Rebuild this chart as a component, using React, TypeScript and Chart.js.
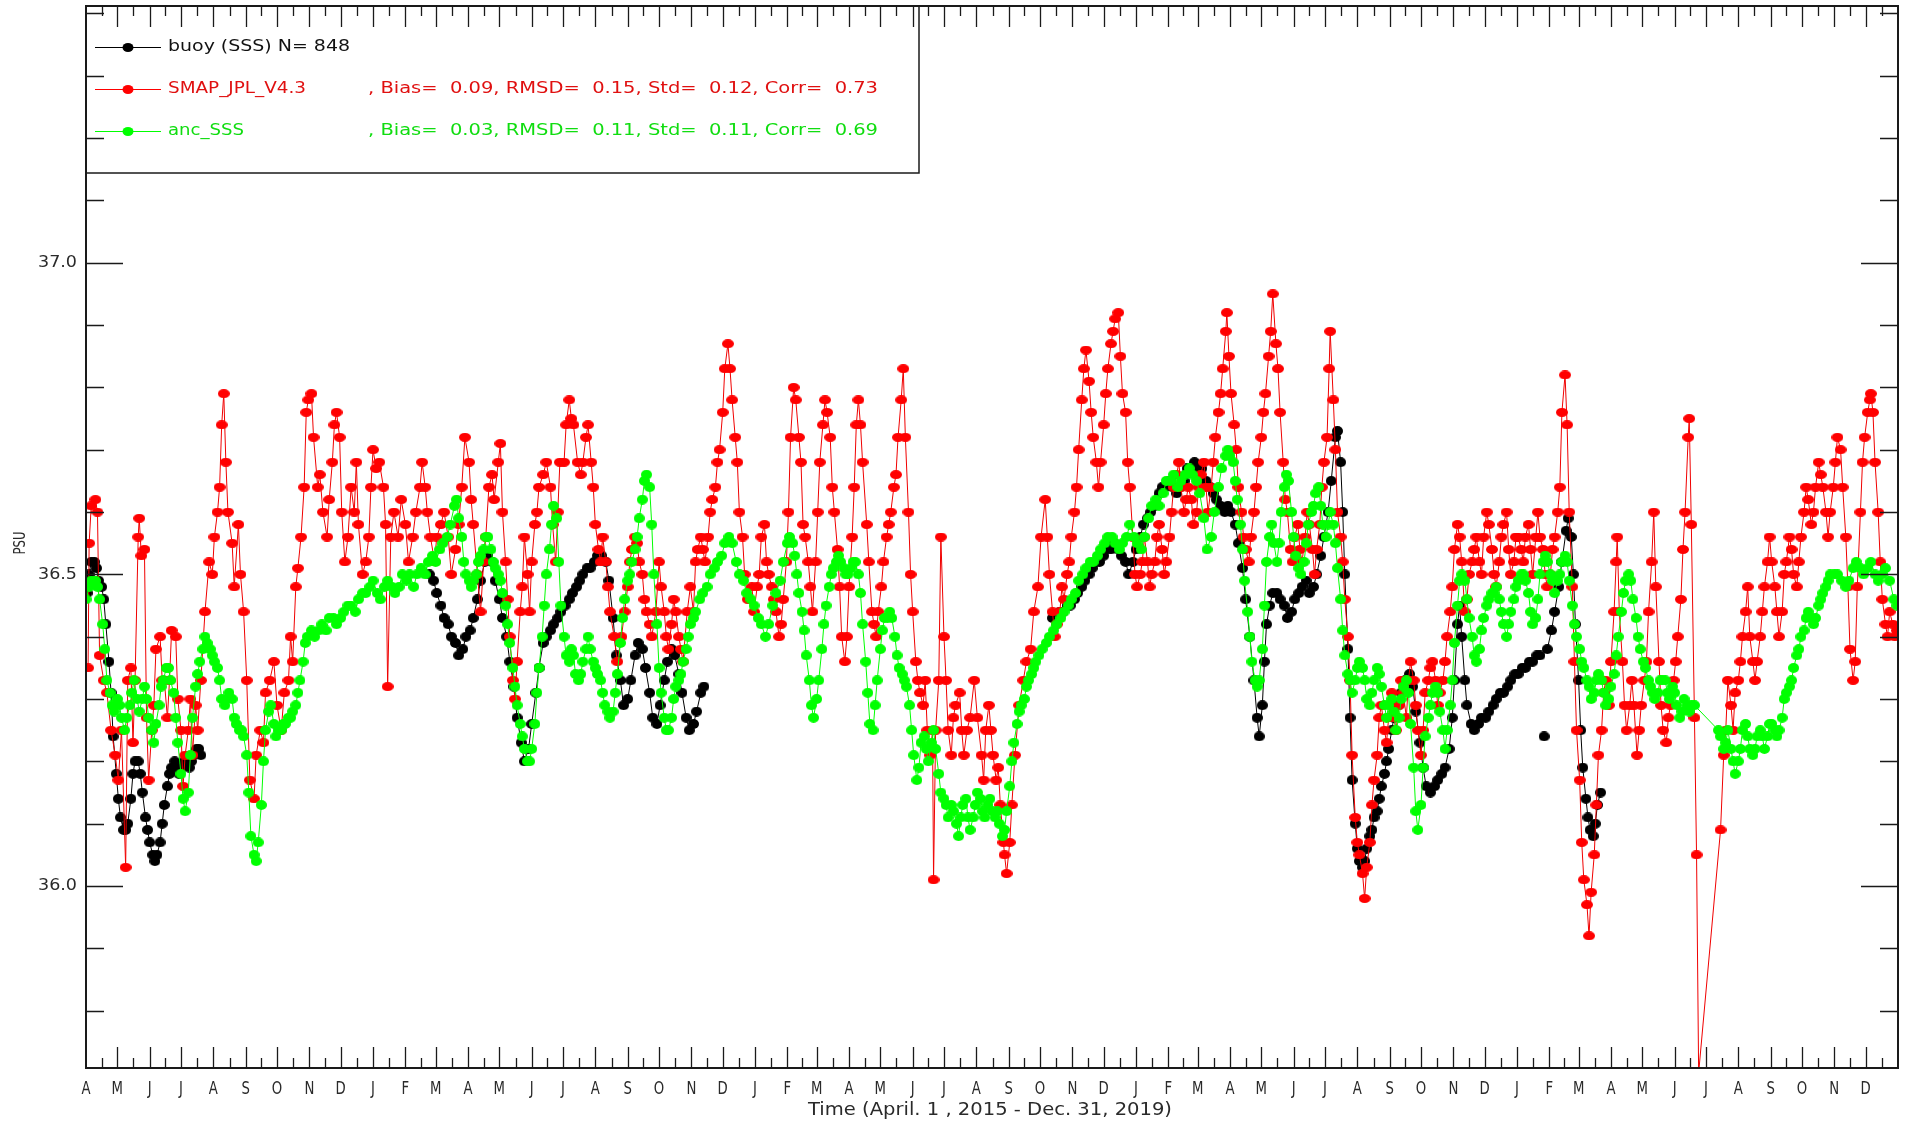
import React, { useEffect, useRef } from 'react';
import { Chart, registerables } from 'chart.js';

Chart.register(...registerables);

// ---------- axis definitions ----------
// days counted from April 1, 2015
const monthStartDays = [0, 30, 61, 91, 122, 153, 183, 214, 244, 275, 306, 335, 366, 396, 427, 457, 488, 519, 549, 580, 610, 641, 672, 700, 731, 761, 792, 822, 853, 884, 914, 945, 975, 1006, 1037, 1065, 1096, 1126, 1157, 1187, 1218, 1249, 1279, 1310, 1340, 1371, 1402, 1430, 1461, 1491, 1522, 1552, 1583, 1614, 1644, 1675, 1705];
const monthLetters = ['A', 'M', 'J', 'J', 'A', 'S', 'O', 'N', 'D',
  'J', 'F', 'M', 'A', 'M', 'J', 'J', 'A', 'S', 'O', 'N', 'D',
  'J', 'F', 'M', 'A', 'M', 'J', 'J', 'A', 'S', 'O', 'N', 'D',
  'J', 'F', 'M', 'A', 'M', 'J', 'J', 'A', 'S', 'O', 'N', 'D',
  'J', 'F', 'M', 'A', 'M', 'J', 'J', 'A', 'S', 'O', 'N', 'D'];
const axisEndDay = 1736;
const yMin = 35.708;
const yMax = 37.412;
const yLabelValues = [36.0, 36.5, 37.0];
const yMinorValues = [35.8, 35.9, 36.1, 36.2, 36.3, 36.4, 36.6, 36.7, 36.8, 36.9, 37.1, 37.2, 37.3, 37.4];
const xTitle = 'Time (April. 1 , 2015 - Dec. 31, 2019)';
const yTitle = 'PSU';

const legendNames = ['buoy (SSS) N= 848', 'SMAP_JPL_V4.3', 'anc_SSS'];
const legendStats = ['', ', Bias=  0.09, RMSD=  0.15, Std=  0.12, Corr=  0.73', ', Bias=  0.03, RMSD=  0.11, Std=  0.11, Corr=  0.69'];

// ---------- data: [day since 2015-04-01, PSU] ----------
const buoyData = [
  [1, 36.47], [3, 36.50], [5, 36.52], [8, 36.52], [10, 36.51], [12, 36.49], [15, 36.48], [17, 36.46], [19, 36.42], [22, 36.36], [24, 36.31], [26, 36.24], [29, 36.18], [31, 36.14], [33, 36.11], [36, 36.09], [38, 36.09], [40, 36.10], [43, 36.14], [45, 36.18], [47, 36.20], [50, 36.20], [52, 36.18], [54, 36.15], [57, 36.11], [59, 36.09], [61, 36.07], [64, 36.05], [66, 36.04], [68, 36.05], [71, 36.07], [73, 36.10], [75, 36.13], [78, 36.16], [80, 36.18], [82, 36.19], [85, 36.20], [87, 36.19], [89, 36.18], [92, 36.19], [94, 36.20], [96, 36.20], [99, 36.19], [101, 36.20], [103, 36.21], [106, 36.22], [108, 36.22], [110, 36.21],
  [200, null],
  [329, 36.50], [333, 36.49], [336, 36.47], [340, 36.45], [343, 36.43], [347, 36.42], [350, 36.40], [354, 36.39], [357, 36.37], [361, 36.38], [364, 36.40], [368, 36.41], [371, 36.43], [375, 36.46], [378, 36.49], [382, 36.52], [385, 36.53], [389, 36.52], [392, 36.49], [396, 36.46], [399, 36.43], [403, 36.40], [406, 36.36], [410, 36.32], [413, 36.27], [417, 36.23], [420, 36.20], [424, 36.22], [427, 36.26], [431, 36.31], [434, 36.35], [438, 36.39], [441, 36.40], [445, 36.41], [448, 36.42], [452, 36.43], [455, 36.44], [459, 36.45], [463, 36.46], [466, 36.47], [470, 36.48], [473, 36.49], [476, 36.50], [480, 36.51], [483, 36.51], [487, 36.52], [490, 36.53], [494, 36.53], [498, 36.52], [501, 36.49], [505, 36.43], [508, 36.37], [512, 36.33], [515, 36.29], [519, 36.30], [522, 36.33], [526, 36.37], [529, 36.39], [533, 36.38], [536, 36.35], [540, 36.31], [543, 36.27], [547, 36.26], [550, 36.29], [554, 36.33], [557, 36.36], [561, 36.38], [564, 36.37], [568, 36.34], [571, 36.31], [575, 36.27], [578, 36.25], [582, 36.26], [585, 36.28], [589, 36.31], [592, 36.32],
  [700, null],
  [926, 36.43], [929, 36.43], [933, 36.44], [936, 36.44], [940, 36.45], [943, 36.45], [947, 36.46], [950, 36.47], [954, 36.48], [957, 36.49], [961, 36.50], [964, 36.51], [968, 36.52], [971, 36.52], [975, 36.53], [978, 36.54], [982, 36.54], [985, 36.55], [989, 36.54], [992, 36.53], [996, 36.52], [999, 36.50], [1003, 36.52], [1006, 36.54], [1010, 36.56], [1013, 36.58], [1017, 36.59], [1020, 36.60], [1024, 36.61], [1028, 36.63], [1031, 36.64], [1034, 36.64], [1038, 36.65], [1041, 36.64], [1045, 36.63], [1048, 36.64], [1052, 36.65], [1055, 36.67], [1059, 36.67], [1062, 36.68], [1066, 36.67], [1069, 36.67], [1073, 36.65], [1077, 36.64], [1080, 36.63], [1083, 36.62], [1087, 36.61], [1091, 36.60], [1094, 36.61], [1097, 36.60], [1101, 36.58], [1104, 36.55], [1108, 36.51], [1111, 36.46], [1115, 36.40], [1119, 36.33], [1122, 36.27], [1124, 36.24], [1127, 36.29], [1129, 36.36], [1131, 36.42], [1134, 36.45], [1137, 36.47], [1141, 36.47], [1144, 36.46], [1148, 36.45], [1151, 36.43], [1155, 36.44], [1158, 36.46], [1162, 36.47], [1165, 36.48], [1169, 36.49], [1172, 36.47], [1176, 36.48], [1179, 36.50], [1183, 36.53], [1186, 36.56], [1190, 36.60], [1193, 36.65], [1197, 36.72], [1199, 36.73], [1202, 36.68], [1204, 36.60], [1206, 36.50], [1209, 36.38], [1211, 36.27], [1213, 36.17], [1216, 36.10], [1218, 36.06], [1220, 36.04], [1223, 36.03], [1225, 36.04], [1227, 36.06], [1230, 36.08], [1232, 36.09], [1234, 36.11], [1237, 36.12], [1239, 36.14], [1241, 36.16], [1244, 36.18], [1246, 36.20], [1248, 36.22], [1251, 36.25], [1253, 36.27], [1257, 36.29], [1260, 36.31], [1264, 36.33], [1268, 36.34], [1271, 36.32], [1274, 36.28], [1278, 36.23], [1281, 36.19], [1284, 36.16], [1288, 36.15], [1292, 36.16], [1295, 36.17], [1299, 36.18], [1302, 36.19], [1306, 36.22], [1309, 36.27], [1311, 36.33], [1314, 36.42], [1316, 36.45], [1318, 36.40], [1321, 36.33], [1323, 36.29], [1327, 36.26], [1330, 36.25], [1334, 36.26], [1337, 36.27], [1341, 36.27], [1344, 36.28], [1348, 36.29], [1351, 36.30], [1355, 36.31], [1358, 36.31], [1362, 36.32], [1365, 36.33], [1369, 36.34], [1372, 36.34], [1376, 36.35], [1379, 36.35], [1383, 36.36], [1386, 36.36], [1390, 36.37], [1393, 36.37],
  [1395, null], [1397, 36.24], [1398, null],
  [1400, 36.38], [1404, 36.41], [1407, 36.44], [1411, 36.48], [1414, 36.52], [1418, 36.57], [1420, 36.59], [1423, 36.56], [1425, 36.50], [1427, 36.42], [1430, 36.33], [1432, 36.25], [1434, 36.19], [1437, 36.14], [1439, 36.11], [1441, 36.09], [1444, 36.08], [1446, 36.10], [1448, 36.13], [1451, 36.15]
];

const smapData = [
  [2, 36.35], [3, 36.55], [5, 36.61], [9, 36.62], [11, 36.60], [13, 36.37], [17, 36.33], [20, 36.31], [24, 36.25], [28, 36.21], [31, 36.17], [34, 36.25], [38, 36.03], [40, 36.33], [43, 36.35], [45, 36.23], [47, 36.33], [50, 36.56], [51, 36.59], [53, 36.53], [56, 36.54], [58, 36.27], [60, 36.17], [63, 36.25], [65, 36.29], [67, 36.38], [71, 36.40], [73, 36.33], [75, 36.33], [78, 36.27], [80, 36.33], [82, 36.41], [86, 36.40], [88, 36.30], [91, 36.25], [93, 36.16], [95, 36.21], [98, 36.25], [100, 36.30], [102, 36.21], [105, 36.29], [107, 36.25], [110, 36.33], [114, 36.44], [118, 36.52], [121, 36.50], [123, 36.56], [126, 36.60], [128, 36.64], [130, 36.74], [132, 36.79], [134, 36.68], [136, 36.60], [140, 36.55], [142, 36.48], [146, 36.58], [148, 36.50], [151, 36.44], [154, 36.33], [157, 36.17], [161, 36.14], [163, 36.21], [167, 36.25], [170, 36.23], [172, 36.31], [176, 36.33], [180, 36.36], [183, 36.29], [187, 36.25], [190, 36.31], [194, 36.33], [196, 36.40], [198, 36.36], [201, 36.48], [203, 36.51], [206, 36.56], [209, 36.64], [211, 36.76], [213, 36.78], [216, 36.79], [218, 36.72], [222, 36.64], [224, 36.66], [227, 36.60], [231, 36.56], [233, 36.62], [236, 36.68], [238, 36.74], [240, 36.76], [243, 36.72], [245, 36.60], [248, 36.52], [251, 36.56], [254, 36.64], [257, 36.60], [259, 36.68], [261, 36.58], [265, 36.50], [268, 36.52], [271, 36.56], [273, 36.64], [275, 36.70], [278, 36.67], [281, 36.68], [285, 36.64], [287, 36.58], [289, 36.32], [292, 36.56], [295, 36.60], [299, 36.56], [302, 36.62], [306, 36.58], [309, 36.52], [313, 36.56], [316, 36.60], [320, 36.64], [322, 36.68], [325, 36.64], [327, 36.60], [330, 36.56], [334, 36.52], [336, 36.56], [340, 36.58], [343, 36.60], [347, 36.56], [350, 36.50], [354, 36.54], [357, 36.58], [360, 36.64], [363, 36.72], [367, 36.68], [369, 36.62], [371, 36.58], [375, 36.50], [378, 36.44], [381, 36.52], [383, 36.56], [386, 36.64], [389, 36.66], [391, 36.62], [395, 36.68], [397, 36.71], [399, 36.60], [402, 36.52], [404, 36.46], [406, 36.40], [409, 36.33], [411, 36.30], [413, 36.36], [416, 36.44], [418, 36.48], [420, 36.56], [423, 36.50], [425, 36.44], [427, 36.52], [430, 36.58], [432, 36.60], [434, 36.64], [438, 36.66], [441, 36.68], [445, 36.64], [447, 36.58], [450, 36.52], [452, 36.60], [454, 36.68], [458, 36.68], [460, 36.74], [463, 36.78], [465, 36.75], [467, 36.74], [471, 36.68], [474, 36.66], [476, 36.68], [479, 36.72], [481, 36.74], [484, 36.68], [486, 36.64], [488, 36.58], [491, 36.54], [493, 36.52], [495, 36.56], [498, 36.52], [500, 36.48], [502, 36.44], [506, 36.40], [509, 36.36], [513, 36.40], [516, 36.44], [519, 36.48], [521, 36.52], [523, 36.54], [526, 36.56], [528, 36.55], [530, 36.52], [533, 36.50], [535, 36.46], [537, 36.44], [540, 36.42], [542, 36.40], [546, 36.44], [549, 36.52], [551, 36.48], [554, 36.44], [556, 36.40], [558, 36.38], [561, 36.42], [563, 36.46], [565, 36.44], [568, 36.40], [570, 36.38], [572, 36.36], [576, 36.44], [579, 36.48], [582, 36.44], [584, 36.52], [586, 36.54], [589, 36.56], [591, 36.54], [593, 36.52], [596, 36.56], [598, 36.60], [600, 36.62], [603, 36.64], [605, 36.68], [607, 36.70], [610, 36.76], [612, 36.83], [615, 36.87], [617, 36.83], [619, 36.78], [622, 36.72], [624, 36.68], [626, 36.60], [629, 36.56], [631, 36.50], [634, 36.46], [638, 36.48], [640, 36.44], [643, 36.48], [645, 36.50], [647, 36.56], [650, 36.58], [652, 36.52], [654, 36.50], [657, 36.48], [659, 36.46], [661, 36.44], [664, 36.40], [666, 36.42], [668, 36.46], [671, 36.52], [673, 36.60], [675, 36.72], [678, 36.80], [680, 36.78], [683, 36.72], [685, 36.68], [687, 36.58], [689, 36.56], [692, 36.52], [694, 36.48], [696, 36.44], [699, 36.52], [701, 36.60], [703, 36.68], [706, 36.74], [708, 36.78], [710, 36.76], [713, 36.72], [715, 36.64], [717, 36.60], [720, 36.54], [722, 36.48], [724, 36.40], [727, 36.36], [729, 36.40], [731, 36.48], [734, 36.56], [736, 36.64], [738, 36.74], [740, 36.78], [742, 36.74], [744, 36.68], [748, 36.58], [750, 36.52], [753, 36.44], [755, 36.42], [757, 36.40], [759, 36.44], [762, 36.48], [764, 36.52], [767, 36.56], [769, 36.58], [771, 36.60], [774, 36.64], [776, 36.66], [778, 36.72], [781, 36.78], [783, 36.83], [785, 36.72], [788, 36.60], [790, 36.50], [792, 36.44], [795, 36.36], [797, 36.33], [799, 36.31], [802, 36.29], [804, 36.33], [806, 36.25], [809, 36.21], [811, 36.25], [812, 36.01], [814, 36.25], [817, 36.33], [819, 36.56], [822, 36.40], [824, 36.33], [826, 36.25], [829, 36.21], [831, 36.27], [833, 36.29], [837, 36.31], [839, 36.25], [841, 36.21], [844, 36.25], [847, 36.27], [851, 36.33], [854, 36.27], [858, 36.21], [860, 36.17], [862, 36.25], [865, 36.29], [867, 36.25], [869, 36.21], [872, 36.17], [874, 36.19], [876, 36.13], [879, 36.07], [880, 36.05], [882, 36.02], [885, 36.07], [887, 36.13], [890, 36.21], [894, 36.29], [898, 36.33], [901, 36.36], [905, 36.38], [908, 36.44], [912, 36.48], [915, 36.56], [919, 36.62], [921, 36.56], [923, 36.50], [926, 36.44], [928, 36.40], [930, 36.42], [933, 36.44], [935, 36.48], [937, 36.46], [940, 36.50], [942, 36.52], [944, 36.56], [947, 36.60], [949, 36.64], [951, 36.70], [954, 36.78], [956, 36.83], [958, 36.86], [961, 36.81], [963, 36.76], [965, 36.72], [968, 36.68], [970, 36.64], [972, 36.68], [975, 36.74], [977, 36.79], [979, 36.83], [982, 36.87], [984, 36.89], [986, 36.91], [989, 36.92], [991, 36.85], [993, 36.79], [996, 36.76], [998, 36.68], [1000, 36.64], [1003, 36.56], [1005, 36.50], [1007, 36.48], [1010, 36.50], [1012, 36.52], [1014, 36.56], [1017, 36.52], [1019, 36.48], [1021, 36.50], [1024, 36.52], [1026, 36.56], [1028, 36.58], [1031, 36.54], [1033, 36.50], [1035, 36.52], [1038, 36.56], [1040, 36.60], [1042, 36.64], [1045, 36.66], [1047, 36.68], [1049, 36.64], [1052, 36.60], [1054, 36.62], [1056, 36.64], [1059, 36.62], [1061, 36.58], [1064, 36.60], [1066, 36.64], [1068, 36.66], [1071, 36.68], [1073, 36.64], [1075, 36.60], [1078, 36.64], [1080, 36.68], [1082, 36.72], [1085, 36.76], [1087, 36.79], [1089, 36.83], [1092, 36.89], [1093, 36.92], [1095, 36.85], [1097, 36.79], [1100, 36.74], [1102, 36.70], [1104, 36.64], [1107, 36.60], [1109, 36.56], [1111, 36.54], [1114, 36.52], [1116, 36.56], [1119, 36.60], [1121, 36.64], [1123, 36.68], [1126, 36.72], [1128, 36.76], [1130, 36.79], [1133, 36.85], [1135, 36.89], [1137, 36.95], [1140, 36.87], [1142, 36.83], [1144, 36.76], [1147, 36.68], [1149, 36.62], [1151, 36.60], [1154, 36.54], [1156, 36.52], [1158, 36.56], [1161, 36.58], [1163, 36.54], [1165, 36.52], [1168, 36.56], [1170, 36.60], [1172, 36.58], [1175, 36.54], [1177, 36.50], [1179, 36.54], [1182, 36.58], [1184, 36.64], [1186, 36.68], [1189, 36.72], [1191, 36.83], [1192, 36.89], [1195, 36.78], [1197, 36.70], [1199, 36.60], [1202, 36.56], [1204, 36.52], [1206, 36.46], [1209, 36.40], [1211, 36.33], [1213, 36.21], [1216, 36.11], [1218, 36.07], [1220, 36.05], [1223, 36.02], [1225, 35.98], [1227, 36.03], [1230, 36.07], [1232, 36.13], [1234, 36.17], [1237, 36.21], [1239, 36.27], [1241, 36.29], [1244, 36.25], [1246, 36.23], [1248, 36.27], [1251, 36.31], [1253, 36.27], [1255, 36.25], [1258, 36.29], [1260, 36.33], [1262, 36.31], [1265, 36.27], [1267, 36.33], [1269, 36.36], [1272, 36.33], [1274, 36.29], [1276, 36.25], [1279, 36.21], [1281, 36.25], [1283, 36.31], [1286, 36.33], [1288, 36.35], [1290, 36.36], [1293, 36.33], [1295, 36.29], [1297, 36.31], [1300, 36.33], [1302, 36.36], [1304, 36.40], [1307, 36.44], [1309, 36.48], [1311, 36.54], [1314, 36.58], [1316, 36.56], [1318, 36.52], [1321, 36.44], [1323, 36.46], [1325, 36.50], [1328, 36.52], [1330, 36.54], [1332, 36.56], [1335, 36.52], [1337, 36.50], [1339, 36.56], [1342, 36.60], [1344, 36.58], [1347, 36.54], [1349, 36.50], [1351, 36.48], [1354, 36.52], [1356, 36.56], [1358, 36.58], [1361, 36.60], [1363, 36.54], [1365, 36.50], [1368, 36.52], [1370, 36.56], [1372, 36.56], [1375, 36.54], [1377, 36.52], [1379, 36.56], [1382, 36.58], [1384, 36.54], [1386, 36.50], [1389, 36.56], [1391, 36.60], [1393, 36.56], [1396, 36.54], [1398, 36.50], [1400, 36.48], [1403, 36.50], [1405, 36.54], [1407, 36.56], [1410, 36.60], [1412, 36.64], [1414, 36.76], [1417, 36.82], [1419, 36.74], [1421, 36.60], [1424, 36.48], [1426, 36.36], [1428, 36.25], [1431, 36.17], [1433, 36.07], [1435, 36.01], [1438, 35.97], [1440, 35.92], [1442, 35.99], [1445, 36.05], [1447, 36.13], [1449, 36.21], [1452, 36.25], [1454, 36.31], [1456, 36.33], [1459, 36.29], [1461, 36.36], [1464, 36.44], [1466, 36.52], [1467, 36.56], [1469, 36.44], [1472, 36.36], [1474, 36.29], [1476, 36.25], [1479, 36.29], [1481, 36.33], [1483, 36.29], [1486, 36.21], [1488, 36.25], [1490, 36.29], [1493, 36.33], [1495, 36.36], [1497, 36.44], [1500, 36.52], [1502, 36.60], [1504, 36.48], [1507, 36.36], [1509, 36.29], [1511, 36.25], [1514, 36.23], [1516, 36.27], [1518, 36.29], [1521, 36.33], [1523, 36.36], [1525, 36.40], [1528, 36.46], [1530, 36.54], [1532, 36.60], [1535, 36.72], [1536, 36.75], [1538, 36.58], [1541, 36.27], [1543, 36.05], [1545, 35.70], [1566, 36.09], [1569, 36.21], [1571, 36.25], [1573, 36.33], [1576, 36.29], [1578, 36.25], [1580, 36.31], [1583, 36.33], [1585, 36.36], [1587, 36.40], [1590, 36.44], [1592, 36.48], [1594, 36.40], [1597, 36.36], [1599, 36.33], [1601, 36.36], [1604, 36.40], [1606, 36.44], [1608, 36.48], [1611, 36.52], [1613, 36.56], [1615, 36.52], [1618, 36.48], [1620, 36.44], [1622, 36.40], [1625, 36.44], [1627, 36.50], [1629, 36.52], [1632, 36.56], [1634, 36.54], [1636, 36.50], [1639, 36.48], [1641, 36.52], [1643, 36.56], [1646, 36.60], [1648, 36.64], [1650, 36.62], [1653, 36.58], [1655, 36.60], [1657, 36.64], [1660, 36.68], [1662, 36.66], [1664, 36.64], [1667, 36.60], [1669, 36.56], [1671, 36.60], [1674, 36.64], [1676, 36.68], [1678, 36.72], [1681, 36.70], [1683, 36.64], [1686, 36.56], [1688, 36.48], [1690, 36.38], [1693, 36.33], [1695, 36.36], [1697, 36.48], [1700, 36.60], [1702, 36.68], [1704, 36.72], [1707, 36.76], [1709, 36.78], [1710, 36.79], [1712, 36.76], [1714, 36.68], [1717, 36.60], [1719, 36.52], [1721, 36.46], [1724, 36.42], [1726, 36.40], [1728, 36.44], [1731, 36.42], [1733, 36.40], [1735, 36.41]
];

const ancData = [
  [0, 36.46], [3, 36.48], [5, 36.49], [9, 36.49], [11, 36.48], [13, 36.46], [16, 36.42], [18, 36.38], [20, 36.33], [23, 36.31], [25, 36.29], [27, 36.28], [30, 36.30], [32, 36.29], [34, 36.27], [37, 36.25], [39, 36.27], [42, 36.29], [44, 36.31], [46, 36.33], [49, 36.30], [51, 36.28], [54, 36.30], [56, 36.32], [58, 36.30], [60, 36.27], [63, 36.25], [65, 36.23], [67, 36.26], [70, 36.29], [72, 36.32], [74, 36.33], [77, 36.35], [79, 36.35], [81, 36.33], [84, 36.31], [86, 36.27], [88, 36.23], [91, 36.18], [93, 36.14], [95, 36.12], [98, 36.15], [100, 36.21], [102, 36.27], [105, 36.32], [107, 36.34], [109, 36.36], [112, 36.38], [114, 36.40], [116, 36.39], [119, 36.38], [121, 36.37], [123, 36.36], [126, 36.35], [128, 36.33], [130, 36.30], [133, 36.29], [135, 36.30], [137, 36.31], [140, 36.30], [142, 36.27], [144, 36.26], [147, 36.25], [149, 36.25], [151, 36.24], [154, 36.21], [156, 36.15], [158, 36.08], [161, 36.05], [163, 36.04], [165, 36.07], [168, 36.13], [170, 36.20], [172, 36.25], [175, 36.28], [177, 36.29], [180, 36.26], [182, 36.24], [184, 36.25], [187, 36.25], [189, 36.26], [191, 36.26], [194, 36.27], [196, 36.27], [198, 36.28], [201, 36.29], [203, 36.31], [205, 36.33], [208, 36.36], [210, 36.39], [212, 36.40], [216, 36.41], [219, 36.40], [223, 36.41], [226, 36.42], [230, 36.41], [233, 36.43], [237, 36.43], [240, 36.42], [244, 36.43], [247, 36.44], [251, 36.45], [254, 36.45], [258, 36.44], [261, 36.46], [265, 36.47], [268, 36.47], [272, 36.48], [275, 36.49], [279, 36.47], [282, 36.46], [286, 36.48], [289, 36.49], [293, 36.48], [296, 36.47], [300, 36.48], [303, 36.50], [307, 36.49], [310, 36.50], [314, 36.48], [317, 36.50], [321, 36.51], [325, 36.50], [328, 36.52], [332, 36.53], [335, 36.52], [339, 36.54], [342, 36.55], [346, 36.56], [349, 36.58], [353, 36.61], [355, 36.62], [357, 36.59], [360, 36.56], [362, 36.52], [364, 36.50], [367, 36.49], [369, 36.48], [371, 36.49], [374, 36.50], [376, 36.52], [378, 36.53], [381, 36.54], [383, 36.56], [385, 36.56], [388, 36.54], [390, 36.52], [392, 36.51], [395, 36.50], [397, 36.49], [399, 36.47], [402, 36.45], [404, 36.42], [406, 36.39], [409, 36.35], [411, 36.32], [413, 36.29], [416, 36.26], [418, 36.24], [420, 36.22], [423, 36.20], [425, 36.20], [427, 36.22], [430, 36.26], [432, 36.31], [434, 36.35], [437, 36.40], [439, 36.45], [441, 36.50], [444, 36.54], [446, 36.58], [448, 36.61], [451, 36.59], [453, 36.52], [455, 36.45], [458, 36.40], [460, 36.37], [463, 36.36], [465, 36.38], [467, 36.37], [469, 36.34], [472, 36.33], [474, 36.34], [476, 36.36], [479, 36.38], [481, 36.40], [483, 36.38], [486, 36.36], [488, 36.35], [490, 36.34], [493, 36.33], [495, 36.31], [497, 36.29], [500, 36.28], [502, 36.27], [505, 36.28], [507, 36.31], [509, 36.34], [512, 36.39], [514, 36.43], [516, 36.46], [519, 36.49], [521, 36.50], [523, 36.52], [526, 36.54], [528, 36.56], [530, 36.59], [533, 36.62], [535, 36.65], [537, 36.66], [540, 36.64], [542, 36.58], [544, 36.50], [547, 36.42], [549, 36.35], [551, 36.31], [554, 36.27], [556, 36.25], [558, 36.25], [561, 36.27], [563, 36.30], [565, 36.32], [568, 36.33], [570, 36.34], [572, 36.36], [575, 36.38], [577, 36.40], [579, 36.42], [582, 36.43], [584, 36.44], [588, 36.46], [591, 36.47], [595, 36.48], [598, 36.50], [602, 36.51], [605, 36.52], [609, 36.53], [612, 36.55], [616, 36.56], [619, 36.55], [623, 36.52], [626, 36.50], [630, 36.49], [633, 36.47], [637, 36.46], [640, 36.45], [644, 36.43], [647, 36.42], [651, 36.40], [654, 36.42], [658, 36.45], [661, 36.47], [665, 36.49], [668, 36.52], [672, 36.55], [674, 36.56], [677, 36.55], [679, 36.53], [681, 36.50], [683, 36.47], [686, 36.44], [688, 36.41], [690, 36.37], [693, 36.33], [695, 36.29], [697, 36.27], [700, 36.30], [702, 36.33], [705, 36.38], [707, 36.42], [709, 36.45], [712, 36.48], [714, 36.50], [716, 36.51], [719, 36.52], [721, 36.53], [723, 36.52], [726, 36.51], [728, 36.50], [730, 36.50], [733, 36.51], [735, 36.52], [737, 36.52], [740, 36.50], [742, 36.47], [744, 36.42], [747, 36.36], [749, 36.31], [751, 36.26], [754, 36.25], [756, 36.29], [758, 36.33], [761, 36.38], [763, 36.41], [765, 36.43], [768, 36.43], [770, 36.44], [772, 36.43], [775, 36.40], [777, 36.37], [779, 36.35], [782, 36.34], [784, 36.33], [786, 36.32], [789, 36.29], [791, 36.25], [793, 36.21], [796, 36.17], [798, 36.19], [800, 36.23], [803, 36.24], [805, 36.22], [807, 36.20], [810, 36.23], [812, 36.25], [814, 36.22], [817, 36.18], [819, 36.15], [822, 36.14], [824, 36.13], [826, 36.11], [829, 36.13], [831, 36.12], [834, 36.10], [836, 36.08], [838, 36.11], [840, 36.13], [843, 36.14], [845, 36.11], [847, 36.09], [850, 36.11], [852, 36.13], [854, 36.15], [857, 36.14], [859, 36.12], [861, 36.11], [864, 36.13], [866, 36.14], [868, 36.12], [871, 36.11], [873, 36.12], [875, 36.10], [878, 36.08], [880, 36.09], [882, 36.12], [885, 36.16], [887, 36.20], [889, 36.23], [892, 36.26], [894, 36.28], [896, 36.29], [899, 36.30], [901, 36.32], [903, 36.33], [906, 36.34], [908, 36.35], [910, 36.36], [913, 36.37], [916, 36.38], [920, 36.39], [923, 36.40], [927, 36.41], [930, 36.42], [934, 36.43], [937, 36.44], [941, 36.45], [944, 36.46], [948, 36.47], [951, 36.49], [955, 36.50], [958, 36.51], [962, 36.52], [965, 36.52], [969, 36.53], [972, 36.54], [976, 36.55], [979, 36.56], [983, 36.56], [986, 36.55], [990, 36.54], [993, 36.55], [997, 36.56], [1000, 36.58], [1004, 36.56], [1007, 36.55], [1011, 36.54], [1014, 36.56], [1018, 36.59], [1021, 36.61], [1025, 36.62], [1028, 36.61], [1032, 36.63], [1035, 36.65], [1039, 36.65], [1042, 36.66], [1046, 36.64], [1049, 36.65], [1053, 36.66], [1057, 36.67], [1060, 36.66], [1064, 36.65], [1067, 36.63], [1071, 36.59], [1074, 36.54], [1078, 36.56], [1081, 36.60], [1085, 36.64], [1088, 36.67], [1092, 36.69], [1094, 36.70], [1096, 36.69], [1099, 36.68], [1101, 36.65], [1103, 36.62], [1106, 36.58], [1108, 36.54], [1110, 36.49], [1113, 36.44], [1115, 36.40], [1117, 36.36], [1120, 36.33], [1122, 36.32], [1124, 36.33], [1127, 36.38], [1129, 36.45], [1131, 36.52], [1134, 36.56], [1136, 36.58], [1138, 36.55], [1141, 36.52], [1143, 36.55], [1145, 36.60], [1148, 36.64], [1150, 36.66], [1152, 36.65], [1155, 36.60], [1157, 36.56], [1159, 36.53], [1162, 36.51], [1164, 36.50], [1167, 36.52], [1169, 36.55], [1171, 36.58], [1174, 36.60], [1176, 36.61], [1178, 36.63], [1181, 36.64], [1183, 36.61], [1185, 36.58], [1188, 36.56], [1190, 36.58], [1192, 36.60], [1195, 36.58], [1197, 36.55], [1199, 36.51], [1202, 36.46], [1204, 36.41], [1206, 36.37], [1209, 36.34], [1211, 36.33], [1213, 36.31], [1216, 36.33], [1218, 36.35], [1220, 36.36], [1223, 36.35], [1225, 36.33], [1227, 36.30], [1230, 36.29], [1232, 36.31], [1234, 36.33], [1237, 36.35], [1239, 36.34], [1241, 36.32], [1244, 36.29], [1246, 36.27], [1248, 36.29], [1251, 36.30], [1253, 36.28], [1255, 36.25], [1258, 36.27], [1260, 36.30], [1262, 36.32], [1265, 36.33], [1267, 36.31], [1269, 36.26], [1272, 36.19], [1274, 36.12], [1276, 36.09], [1279, 36.13], [1281, 36.19], [1283, 36.24], [1286, 36.27], [1288, 36.29], [1290, 36.31], [1293, 36.32], [1295, 36.31], [1297, 36.28], [1300, 36.25], [1302, 36.22], [1304, 36.25], [1307, 36.29], [1309, 36.33], [1311, 36.39], [1314, 36.45], [1316, 36.49], [1318, 36.50], [1321, 36.49], [1323, 36.46], [1325, 36.43], [1328, 36.40], [1330, 36.37], [1332, 36.36], [1335, 36.38], [1337, 36.41], [1339, 36.43], [1342, 36.45], [1344, 36.46], [1347, 36.47], [1349, 36.47], [1351, 36.48], [1354, 36.46], [1356, 36.44], [1358, 36.42], [1361, 36.40], [1363, 36.42], [1365, 36.44], [1368, 36.46], [1370, 36.48], [1372, 36.49], [1375, 36.50], [1377, 36.50], [1379, 36.49], [1382, 36.47], [1384, 36.44], [1386, 36.42], [1389, 36.43], [1391, 36.46], [1393, 36.50], [1396, 36.52], [1398, 36.53], [1400, 36.52], [1403, 36.50], [1405, 36.49], [1407, 36.47], [1410, 36.49], [1412, 36.50], [1414, 36.52], [1417, 36.53], [1419, 36.52], [1421, 36.49], [1424, 36.45], [1426, 36.42], [1428, 36.40], [1431, 36.38], [1433, 36.36], [1435, 36.35], [1438, 36.33], [1440, 36.32], [1442, 36.30], [1445, 36.31], [1447, 36.33], [1449, 36.34], [1452, 36.33], [1454, 36.31], [1456, 36.29], [1459, 36.30], [1461, 36.32], [1464, 36.34], [1466, 36.37], [1468, 36.40], [1471, 36.44], [1473, 36.47], [1475, 36.49], [1478, 36.50], [1480, 36.49], [1482, 36.46], [1485, 36.43], [1487, 36.40], [1489, 36.38], [1492, 36.36], [1494, 36.35], [1497, 36.33], [1499, 36.32], [1501, 36.31], [1503, 36.30], [1506, 36.31], [1508, 36.33], [1510, 36.33], [1513, 36.33], [1515, 36.31], [1517, 36.30], [1520, 36.32], [1522, 36.31], [1524, 36.29], [1527, 36.27], [1529, 36.28], [1531, 36.30], [1534, 36.29], [1536, 36.28], [1538, 36.29], [1541, 36.29], [1564, 36.25], [1566, 36.24], [1569, 36.22], [1571, 36.23], [1573, 36.25], [1576, 36.22], [1578, 36.20], [1580, 36.18], [1583, 36.20], [1585, 36.22], [1587, 36.25], [1590, 36.26], [1592, 36.24], [1594, 36.22], [1597, 36.21], [1599, 36.22], [1601, 36.24], [1604, 36.25], [1606, 36.24], [1608, 36.22], [1611, 36.24], [1613, 36.26], [1615, 36.26], [1618, 36.25], [1620, 36.24], [1622, 36.25], [1625, 36.27], [1627, 36.30], [1629, 36.31], [1632, 36.32], [1634, 36.33], [1636, 36.35], [1639, 36.37], [1641, 36.38], [1643, 36.40], [1646, 36.41], [1648, 36.43], [1650, 36.44], [1653, 36.43], [1655, 36.42], [1657, 36.43], [1660, 36.45], [1662, 36.46], [1664, 36.47], [1667, 36.48], [1669, 36.49], [1671, 36.50], [1675, 36.50], [1678, 36.50], [1682, 36.49], [1686, 36.48], [1689, 36.49], [1693, 36.51], [1696, 36.52], [1700, 36.51], [1703, 36.50], [1707, 36.51], [1710, 36.52], [1714, 36.50], [1717, 36.49], [1721, 36.50], [1724, 36.51], [1728, 36.49], [1732, 36.46], [1735, 36.45]
];

// ---------- styling ----------
const COLOR_BUOY = '#000000';
const COLOR_SMAP = '#ff0000';
const COLOR_ANC = '#00ff00';
const FONT = '"DejaVu Sans", "Liberation Sans", sans-serif';

function makeDot(color: string, w: number, h: number) {
  const c = document.createElement('canvas');
  c.width = w;
  c.height = h;
  const g = c.getContext('2d')!;
  g.fillStyle = color;
  g.beginPath();
  g.ellipse(w / 2, h / 2, w / 2, h / 2, 0, 0, Math.PI * 2);
  g.fill();
  return c;
}

function drawFit(ctx: CanvasRenderingContext2D, text: string, x: number, y: number, width: number, align: CanvasTextAlign) {
  const w0 = ctx.measureText(text).width || 1;
  const sx = width / w0;
  ctx.save();
  ctx.translate(x, y);
  ctx.scale(sx, 1);
  ctx.textAlign = align;
  ctx.fillText(text, 0, 0);
  ctx.restore();
}

const idlFramePlugin = {
  id: 'idlFrame',
  afterDraw(chart: any) {
    const { ctx, chartArea: a, scales } = chart;
    const xs = scales.x;
    const ys = scales.y;
    ctx.save();
    ctx.strokeStyle = '#1a1a1a';
    ctx.lineWidth = 1.3;

    // x ticks (bottom & top): month starts long, mid-month short
    const bounds = [...monthStartDays, axisEndDay];
    ctx.beginPath();
    for (let i = 0; i < bounds.length; i++) {
      const d = bounds[i];
      if (d > 0 && d < axisEndDay) {
        const px = Math.round(xs.getPixelForValue(d)) + 0.5;
        ctx.moveTo(px, a.bottom); ctx.lineTo(px, a.bottom - 21);
        ctx.moveTo(px, a.top); ctx.lineTo(px, a.top + 21);
      }
      if (i < bounds.length - 1) {
        const mid = (bounds[i] + bounds[i + 1]) / 2;
        const pm = Math.round(xs.getPixelForValue(mid)) + 0.5;
        ctx.moveTo(pm, a.bottom); ctx.lineTo(pm, a.bottom - 10);
        ctx.moveTo(pm, a.top); ctx.lineTo(pm, a.top + 10);
      }
    }
    // y ticks (left & right)
    for (const v of yLabelValues) {
      const py = Math.round(ys.getPixelForValue(v)) + 0.5;
      ctx.moveTo(a.left, py); ctx.lineTo(a.left + 37, py);
      ctx.moveTo(a.right, py); ctx.lineTo(a.right - 37, py);
    }
    for (const v of yMinorValues) {
      const py = Math.round(ys.getPixelForValue(v)) + 0.5;
      ctx.moveTo(a.left, py); ctx.lineTo(a.left + 18, py);
      ctx.moveTo(a.right, py); ctx.lineTo(a.right - 18, py);
    }
    ctx.stroke();

    // frame
    ctx.lineWidth = 2;
    ctx.strokeRect(a.left, a.top, a.right - a.left, a.bottom - a.top);

    // tick labels
    ctx.fillStyle = '#2a2a2a';
    ctx.textBaseline = 'middle';
    ctx.font = `16px ${FONT}`;
    for (const v of yLabelValues) {
      drawFit(ctx, v.toFixed(1), a.left - 9, ys.getPixelForValue(v), 39, 'right');
    }
    ctx.font = `17px ${FONT}`;
    monthStartDays.forEach((d, i) => {
      const t = monthLetters[i];
      const w = ctx.measureText(t).width * 0.78;
      drawFit(ctx, t, xs.getPixelForValue(d), a.bottom + 22, w, 'center');
    });

    // axis titles
    ctx.font = `17px ${FONT}`;
    drawFit(ctx, xTitle, (a.left + a.right) / 2 - 2, 1111, 364, 'center');
    ctx.save();
    ctx.translate(21, 543);
    ctx.rotate(-Math.PI / 2);
    ctx.font = `15px ${FONT}`;
    drawFit(ctx, yTitle, 0, 0, 23, 'center');
    ctx.restore();

    // legend box
    const boxRight = 919;
    const boxBottom = 173;
    ctx.lineWidth = 1.5;
    ctx.strokeStyle = '#1a1a1a';
    ctx.strokeRect(a.left, a.top, boxRight - a.left, boxBottom - a.top);
    const rowsY = [47, 89, 131];
    const colors = [COLOR_BUOY, COLOR_SMAP, COLOR_ANC];
    const textColors = ['#111111', '#e01010', '#10dd10'];
    const nameWidths = [182, 138, 76];
    ctx.font = `16px ${FONT}`;
    rowsY.forEach((y, i) => {
      ctx.strokeStyle = colors[i];
      ctx.lineWidth = 1.2;
      ctx.beginPath();
      ctx.moveTo(95, y + 0.5);
      ctx.lineTo(161, y + 0.5);
      ctx.stroke();
      ctx.fillStyle = colors[i];
      ctx.beginPath();
      ctx.ellipse(128, y + 0.5, 5.5, 4.5, 0, 0, Math.PI * 2);
      ctx.fill();
      ctx.fillStyle = textColors[i];
      drawFit(ctx, legendNames[i], 168, y, nameWidths[i], 'left');
      if (legendStats[i]) drawFit(ctx, legendStats[i], 368, y, 510, 'left');
    });
    ctx.restore();
  },
};

export default function App() {
  const canvasRef = useRef<HTMLCanvasElement | null>(null);

  useEffect(() => {
    const canvas = canvasRef.current;
    if (!canvas) return;
    const dotBuoy = makeDot(COLOR_BUOY, 11, 10);
    const dotSmap = makeDot(COLOR_SMAP, 12, 9);
    const dotAnc = makeDot(COLOR_ANC, 11, 10);
    const toXY = (arr: any[]) => arr.map(([x, y]) => ({ x, y }));

    const chart = new Chart(canvas, {
      type: 'line',
      data: {
        datasets: [
          {
            label: 'anc_SSS',
            data: toXY(ancData),
            borderColor: COLOR_ANC,
            backgroundColor: COLOR_ANC,
            borderWidth: 1,
            pointStyle: dotAnc as any,
            pointRadius: 5,
            tension: 0,
            spanGaps: false,
            clip: 0,
            order: 0,
          },
          {
            label: 'SMAP_JPL_V4.3',
            data: toXY(smapData),
            borderColor: '#f00000',
            backgroundColor: COLOR_SMAP,
            borderWidth: 1,
            pointStyle: dotSmap as any,
            pointRadius: 5,
            tension: 0,
            spanGaps: false,
            clip: 0,
            order: 1,
          },
          {
            label: 'buoy (SSS)',
            data: toXY(buoyData),
            borderColor: COLOR_BUOY,
            backgroundColor: COLOR_BUOY,
            borderWidth: 1,
            pointStyle: dotBuoy as any,
            pointRadius: 5,
            tension: 0,
            spanGaps: false,
            clip: 0,
            order: 2,
          },
        ],
      },
      options: {
        animation: false,
        responsive: false,
        devicePixelRatio: 1,
        layout: { padding: { left: 86, right: 16, top: 5, bottom: 57 } },
        scales: {
          x: { type: 'linear', min: 0, max: axisEndDay, display: false },
          y: { type: 'linear', min: yMin, max: yMax, display: false },
        },
        plugins: { legend: { display: false }, tooltip: { enabled: false } },
        events: [],
      },
      plugins: [idlFramePlugin],
    });
    return () => chart.destroy();
  }, []);

  return (
    <div style={{ position: 'absolute', left: 0, top: 0, width: 1914, height: 1125, background: '#fff' }}>
      <canvas ref={canvasRef} width={1914} height={1125} style={{ width: 1914, height: 1125, display: 'block' }} />
    </div>
  );
}
